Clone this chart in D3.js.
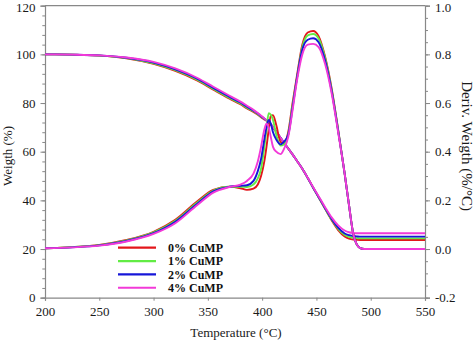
<!DOCTYPE html>
<html><head><meta charset="utf-8">
<script src="https://cdn.jsdelivr.net/npm/d3@7"></script>
<style>
body{margin:0;background:#fff;}
svg{display:block;font-family:"Liberation Serif","Times New Roman",serif;}
</style></head><body>
<svg id="c" width="474" height="341"></svg>
<script>
const temps = [200,225,250,275,300,320,340,355,370,380,386,392,396,399,402,404,406,408,410,413,417,420,424,428,432,437,442,447,452,458,464,470,476,480,484,487,490,494,500,525,550];

const seriesNames = ["0% CuMP","1% CuMP","2% CuMP","4% CuMP"];
const seriesColors = ["#e3161b","#62ec44","#1616d8","#f23ad8"];

// Weight (%) curves
const weight0 = [100,99.9,99.5,98.4,96.1,93.2,89.3,85.5,81.8,79.5,77.8,76.3,75.2,74.2,73.3,72.7,72.0,71.1,70.0,68.2,65.6,63.8,61.3,58.9,56.3,53.0,49.2,45.2,41.3,36.5,31.8,27.8,25.2,24.3,23.9,23.8,23.7,23.7,23.7,23.7,23.7];
const weight1 = [100,99.9,99.5,98.5,96.3,93.5,89.6,85.8,82.1,79.8,78.1,76.6,75.4,74.4,73.5,72.8,72.1,71.2,70.1,68.3,65.7,63.8,61.3,58.9,56.3,53.0,49.2,45.2,41.3,36.6,32.1,28.3,25.8,25.0,24.6,24.5,24.4,24.4,24.4,24.4,24.4];
const weight2 = [100,99.9,99.6,98.6,96.6,93.8,90.0,86.2,82.5,80.2,78.5,76.9,75.7,74.6,73.6,72.9,72.1,71.2,70.1,68.3,65.7,63.8,61.3,58.9,56.3,53.0,49.2,45.2,41.4,36.8,32.4,28.8,26.4,25.7,25.3,25.2,25.1,25.1,25.1,25.1,25.1];
const weight3 = [100,99.9,99.6,98.7,96.9,94.2,90.4,86.7,83.0,80.6,78.9,77.2,75.9,74.8,73.7,72.9,72.1,71.2,70.1,68.3,65.7,63.8,61.3,58.9,56.3,53.0,49.3,45.4,41.7,37.2,33.0,29.7,27.6,26.9,26.6,26.5,26.5,26.5,26.5,26.5,26.5];

// Derivative weight (%/°C) curves
const deriv0 = [0.003,0.008,0.017,0.037,0.071,0.12,0.195,0.243,0.256,0.25,0.243,0.248,0.265,0.30,0.36,0.42,0.49,0.548,0.55,0.51,0.44,0.435,0.48,0.60,0.71,0.84,0.89,0.896,0.875,0.79,0.66,0.49,0.31,0.18,0.06,0.02,0.005,0,0,0,0];
const deriv1 = [0.003,0.008,0.016,0.035,0.068,0.116,0.19,0.24,0.256,0.256,0.255,0.265,0.29,0.33,0.42,0.49,0.558,0.552,0.53,0.47,0.425,0.43,0.47,0.59,0.70,0.83,0.878,0.884,0.865,0.785,0.655,0.49,0.31,0.18,0.06,0.02,0.005,0,0,0,0];
const deriv2 = [0.003,0.007,0.015,0.033,0.065,0.112,0.185,0.237,0.256,0.26,0.262,0.28,0.32,0.37,0.45,0.50,0.53,0.515,0.48,0.45,0.43,0.44,0.47,0.58,0.70,0.82,0.86,0.866,0.85,0.775,0.65,0.485,0.31,0.18,0.06,0.02,0.005,0,0,0,0];
const deriv3 = [0.003,0.007,0.014,0.031,0.062,0.106,0.18,0.232,0.255,0.265,0.28,0.31,0.36,0.42,0.49,0.515,0.50,0.46,0.42,0.40,0.39,0.41,0.46,0.57,0.69,0.80,0.84,0.843,0.83,0.76,0.64,0.48,0.31,0.18,0.06,0.02,0.005,0,0,0,0];

const xTicks = [200,250,300,350,400,450,500,550];
const yLeftTicks = [0,20,40,60,80,100,120];
const yRightTicks = [-0.2,0,0.2,0.4,0.6,0.8,1.0];

const weights = [weight0,weight1,weight2,weight3];
const derivs = [deriv0,deriv1,deriv2,deriv3];

const svg = d3.select("#c");
const L = 45, R = 425, T = 5.7, B = 297.7;
const x = d3.scaleLinear().domain([200,550]).range([L,R]);
const yL = d3.scaleLinear().domain([0,120]).range([B,T]);
const yR = d3.scaleLinear().domain([-0.2,1.0]).range([B,T]);

const axisColor = "#888";
function styleAxis(g){
  g.select(".domain").attr("stroke",axisColor).attr("stroke-width",1.2);
  g.selectAll(".tick line").attr("stroke",axisColor).attr("stroke-width",1);
  g.selectAll(".tick text").attr("fill","#1a1a1a").attr("font-size",13).attr("font-family","Liberation Serif, Times New Roman, serif");
}

// minor ticks
svg.append("g").attr("transform",`translate(${L},0)`)
  .call(d3.axisLeft(yL).tickValues(d3.range(0,121,4)).tickSize(2.7).tickFormat(""))
  .call(g=>{g.select(".domain").remove(); g.selectAll(".tick line").attr("stroke",axisColor);});
svg.append("g").attr("transform",`translate(${R},0)`)
  .call(d3.axisRight(yR).tickValues(d3.range(-0.2,1.0001,0.05)).tickSize(3).tickFormat(""))
  .call(g=>{g.select(".domain").remove(); g.selectAll(".tick line").attr("stroke",axisColor);});

// frame top
svg.append("line").attr("x1",L).attr("x2",R).attr("y1",T).attr("y2",T).attr("stroke",axisColor).attr("stroke-width",1.2);

const fmtR = v => d3.format(".1f")(v).replace("\u2212","-");

svg.append("g").attr("transform",`translate(0,${B})`)
  .call(d3.axisBottom(x).tickValues(xTicks).tickSize(3).tickPadding(6).tickFormat(d3.format("d")))
  .call(styleAxis);
svg.append("g").attr("transform",`translate(${L},0)`)
  .call(d3.axisLeft(yL).tickValues(yLeftTicks).tickSize(4.5).tickPadding(5).tickFormat(d3.format("d")))
  .call(styleAxis)
  .call(g=>g.selectAll(".tick text").filter(d=>d===120).attr("dy","0.45em"));
svg.append("g").attr("transform",`translate(${R},0)`)
  .call(d3.axisRight(yR).tickValues(yRightTicks).tickSize(5).tickPadding(5).tickFormat(fmtR))
  .call(styleAxis)
  .call(g=>g.selectAll(".tick text").filter(d=>d===1.0).attr("dy","0.45em"));

const lineW = d3.line().x((d,i)=>x(temps[i])).y(d=>yL(d)).curve(d3.curveMonotoneX);
const lineD = d3.line().x((d,i)=>x(temps[i])).y(d=>yR(d)).curve(d3.curveMonotoneX);

const plot = svg.append("g");
weights.forEach((w,i)=>{
  plot.append("path").attr("d",lineW(w)).attr("fill","none").attr("stroke",seriesColors[i]).attr("stroke-width",1.9);
});
derivs.forEach((dv,i)=>{
  plot.append("path").attr("d",lineD(dv)).attr("fill","none").attr("stroke",seriesColors[i]).attr("stroke-width",1.9);
});

// legend
const leg = svg.append("g");
seriesNames.forEach((n,i)=>{
  const yy = 247.7 + i*13.35;
  leg.append("line").attr("x1",118).attr("x2",156).attr("y1",yy).attr("y2",yy).attr("stroke",seriesColors[i]).attr("stroke-width",2.2);
  leg.append("text").attr("x",168).attr("y",yy).attr("dy","0.35em").attr("font-size",12).attr("font-weight","bold").attr("fill","#111").text(n);
});

// axis titles
svg.append("text").attr("x",236).attr("y",337).attr("text-anchor","middle").attr("font-size",13).attr("fill","#1a1a1a").text("Temperature (°C)");
svg.append("text").attr("transform","translate(12,156) rotate(-90)").attr("text-anchor","middle").attr("font-size",13).attr("fill","#1a1a1a").text("Weigth (%)");
svg.append("text").attr("transform","translate(462,146) rotate(90)").attr("text-anchor","middle").attr("font-size",15).attr("fill","#1a1a1a").text("Deriv. Weigth (%/°C)");
</script>
</body></html>
